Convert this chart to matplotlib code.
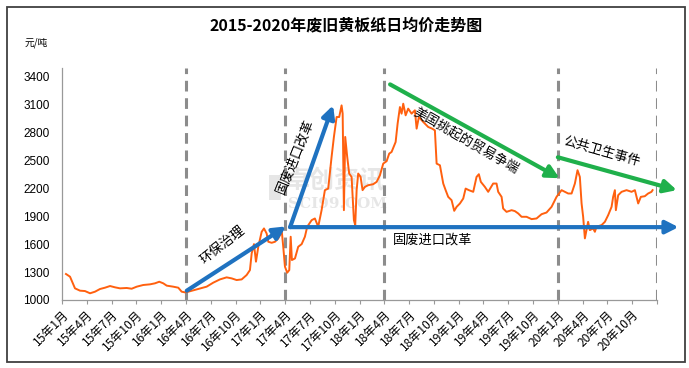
import matplotlib
matplotlib.use("Agg")
import matplotlib.pyplot as plt
from matplotlib.patches import Rectangle

plt.rcParams['font.family'] = ['Noto Sans CJK SC', 'DejaVu Sans']

# months since Jan 2015 (fractional) and price (元/吨)
month_offset = [0.48, 0.97, 1.57, 2.18, 2.78, 3.39, 3.99, 4.60, 5.20, 5.81, 6.41, 7.02,
                7.83, 8.43, 9.04, 9.83, 10.65, 11.25, 11.77, 12.25, 12.67, 13.46, 14.07,
                14.48, 14.88, 15.28, 16.29, 17.50, 18.30, 19.11, 19.92, 20.53, 21.13,
                21.74, 22.34, 22.74, 22.95, 23.23, 23.47, 23.75, 24.16, 24.44, 24.76,
                24.96, 25.37, 25.77, 26.17, 26.46, 26.58, 26.77, 26.98, 27.25, 27.50,
                27.67, 27.82, 28.19, 28.58, 29.00, 29.39, 29.67, 30.21, 30.60, 31.00,
                31.41, 31.81, 32.21, 32.62, 32.90, 33.23, 33.54, 33.83, 33.96, 34.11,
                34.27, 34.51, 34.75, 35.04, 35.32, 35.48, 35.65, 35.84, 36.13, 36.37,
                36.65, 37.05, 37.66, 38.07, 38.47, 38.87, 39.28, 39.59, 39.88, 40.37,
                40.61, 40.89, 41.09, 41.29, 41.58, 41.89, 42.30, 42.70, 42.91, 43.18,
                43.71, 44.31, 44.79, 45.12, 45.33, 45.73, 46.13, 46.42, 46.73, 47.14,
                47.46, 47.75, 48.15, 48.55, 48.84, 49.23, 49.76, 50.16, 50.44, 50.68,
                51.17, 51.57, 52.17, 52.58, 52.78, 53.19, 53.38, 53.79, 54.40, 54.80,
                55.20, 55.61, 56.21, 56.82, 57.42, 58.03, 58.63, 59.24, 59.84, 60.45,
                60.85, 61.25, 61.66, 62.06, 62.38, 62.66, 62.87, 63.06, 63.27, 63.47,
                63.66, 63.87, 64.27, 64.48, 64.68, 65.29, 65.69, 66.09, 66.50, 66.69,
                66.90, 67.02, 67.30, 67.71, 68.31, 68.92, 69.32, 69.72, 70.04, 70.52,
                70.92, 71.33, 71.46]
price = [1279, 1250, 1125, 1100, 1096, 1072, 1089, 1118, 1132, 1150, 1136, 1125,
         1129, 1121, 1143, 1161, 1168, 1179, 1196, 1179, 1154, 1143, 1132,
         1089, 1082, 1089, 1114, 1143, 1186, 1221, 1243, 1232, 1214,
         1221, 1268, 1321, 1500, 1600, 1411, 1571, 1732, 1768, 1714,
         1625, 1614, 1625, 1661, 1714, 1750, 1571, 1357, 1293, 1321,
         1679, 1429, 1446, 1571, 1600, 1679, 1786, 1857, 1875, 1786,
         1964, 2179, 2196, 2536, 2750, 2964, 2964, 3089, 3000, 1964,
         2750, 2536, 2357, 2321, 1857, 1804, 2179, 2357, 2321, 2179,
         2214, 2232, 2243, 2268, 2339, 2464, 2490, 2571, 2589, 2696,
         2893, 3071, 3000, 3107, 2982, 3054, 3000, 3036, 2839, 2964,
         2911, 2857, 2839, 2821, 2464, 2446, 2250, 2179, 2107, 2071,
         1957, 2000, 2036, 2089, 2196, 2179, 2161, 2321, 2350, 2268,
         2214, 2161, 2250, 2250, 2161, 2107, 1982, 1946, 1964, 1954,
         1929, 1893, 1893, 1868, 1875, 1921, 1939, 2000, 2107, 2179,
         2161, 2143, 2143, 2250, 2393, 2321, 2036, 1893, 1661, 1750,
         1839, 1750, 1768, 1732, 1786, 1804, 1839, 1911, 2000, 2107,
         2179, 1964, 2125, 2161, 2179, 2161, 2179, 2036, 2107, 2114,
         2143, 2161, 2179]

tick_months = list(range(0, 73, 3))
tick_labels = [f"{y}年{m}月" for y in range(15, 21) for m in (1, 4, 7, 10)]
event_months = [15, 27, 39, 60, 72]
y_ticks = [1000, 1300, 1600, 1900, 2200, 2500, 2800, 3100, 3400]

fig = plt.figure(figsize=(6.89, 3.68), dpi=100)
ax = fig.add_axes([0.0900, 0.1848, 0.8636, 0.6304])

# outer frame
fig.patches.append(Rectangle((7/689, 6/368), 678/689, 355/368, transform=fig.transFigure,
                             fill=False, edgecolor='#404040', linewidth=1.3))

# watermark
ax.add_patch(Rectangle((0.348, 0.43), 0.02, 0.11, transform=ax.transAxes,
                       facecolor='#e6e6e6', edgecolor='none', zorder=0))
ax.text(0.375, 0.515, "卓创资讯", transform=ax.transAxes, fontsize=18, color='#e6e6e6',
        ha='left', va='center', zorder=0, fontweight='bold')
ax.text(0.380, 0.415, "SCI99.COM", transform=ax.transAxes, fontsize=11, color='#e6e6e6',
        ha='left', va='center', zorder=0, family='DejaVu Serif', fontweight='bold')

for m in event_months:
    ax.axvline(m, color='#8c8c8c', linewidth=2.2, linestyle=(0, (3.5, 2.2)), zorder=1,
               ymin=0, ymax=1.0)

ax.plot(month_offset, price, color='#ff600f', linewidth=1.4, zorder=3)

ax.set_xlim(0, 72)
ax.set_ylim(1000, 3490)
ax.set_yticks(y_ticks)
ax.set_yticklabels([str(v) for v in y_ticks], family='Liberation Sans', fontsize=8.5)
ax.tick_params(axis='y', length=0, pad=9)
ax.set_xticks(tick_months)
ax.set_xticklabels(tick_labels + [""], rotation=45, ha='right', rotation_mode='anchor',
                   fontsize=8.7)
ax.tick_params(axis='x', length=3, color='#999999', pad=3)

for s in ['top', 'right']:
    ax.spines[s].set_visible(False)
for s in ['left', 'bottom']:
    ax.spines[s].set_color('#999999')
    ax.spines[s].set_linewidth(0.9)

blue = '#1f72c0'
green = '#1fb04b'
arrow_kw = dict(arrowstyle='-|>,head_length=0.75,head_width=0.38', lw=3.0,
                shrinkA=0, shrinkB=0)

def arrow(x0, y0, x1, y1, color):
    ax.annotate("", xy=(x1, y1), xytext=(x0, y0), annotation_clip=False,
                arrowprops=dict(color=color, **arrow_kw), zorder=4)

arrow(15.1, 1100, 27.1, 1790, blue)
arrow(27.6, 1782, 32.8, 3089, blue)
arrow(27.6, 1782, 74.6, 1782, blue)
arrow(39.7, 3314, 60.2, 2307, green)
arrow(60.0, 2532, 74.4, 2179, green)

tf = dict(fontsize=9.5, color='black', zorder=5, ha='center', va='center')
ax.text(19.4, 1590, "环保治理", rotation=38, **tf)
ax.text(28.2, 2540, "固废进口改革", rotation=68, **tf)
ax.text(44.9, 1640, "固废进口改革", **tf)
ax.text(48.8, 2700, "美国挑起的贸易争端", rotation=-30, **tf)
ax.text(65.3, 2590, "公共卫生事件", rotation=-16, **tf)

fig.text(0.503, 0.93, "2015-2020年废旧黄板纸日均价走势图", ha='center', va='center',
         fontsize=11.5, fontweight='bold')
fig.text(0.036, 0.885, "元/吨", ha='left', va='center', fontsize=7)

fig.savefig("out.png", dpi=100)
